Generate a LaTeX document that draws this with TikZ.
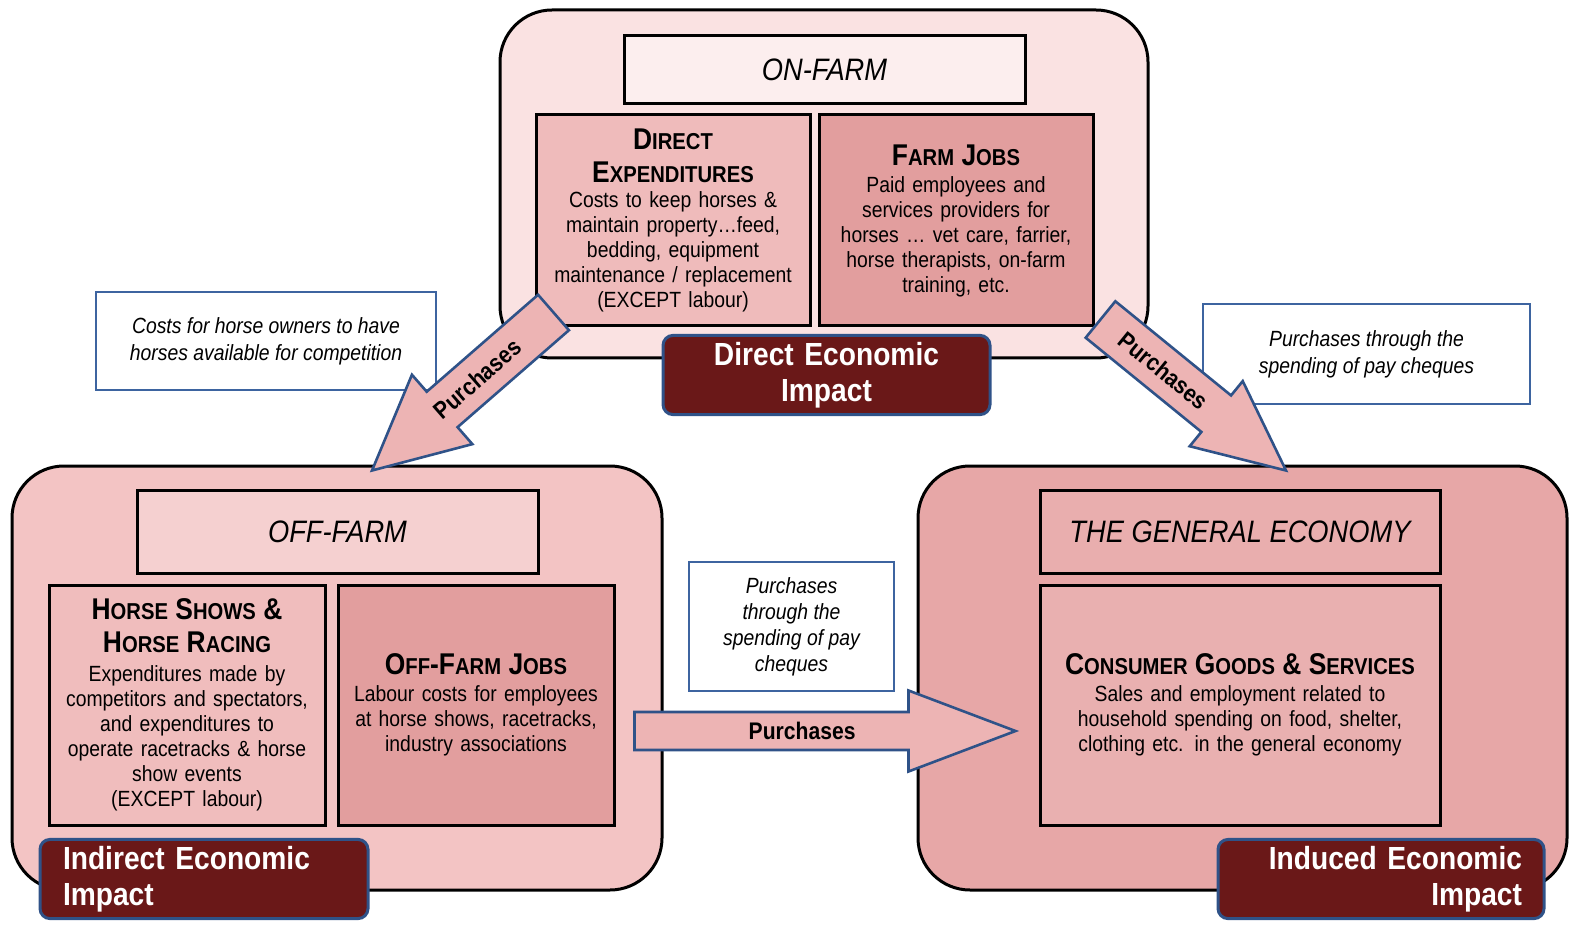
\documentclass[tikz,border=0pt]{standalone}
\usepackage{fontspec}
\setmainfont{Liberation Sans}[FakeStretch=0.88]
\usetikzlibrary{calc}

\definecolor{onfarmbg}{HTML}{FAE2E2}
\definecolor{offfarmbg}{HTML}{F3C4C4}
\definecolor{generalbg}{HTML}{E7A7A7}
\definecolor{lightbox}{HTML}{EFBBBB}
\definecolor{darkbox}{HTML}{E29E9E}
\definecolor{impactred}{HTML}{6A1818}
\definecolor{edgeblue}{HTML}{2F5288}
\definecolor{calloutblue}{HTML}{3D64A0}
\definecolor{arrowpink}{HTML}{EDB4B4}

\newcommand{\hsc}[2]{{\bfseries\fontsize{15}{17}\selectfont #1\fontsize{11.5}{17}\selectfont #2}}
% block arrow: tail, tip, shaft half width, head half width, head length, label pos, label
\newcommand{\purchase}[7]{%
  \coordinate (hb) at ($(#2)!#5!(#1)$);
  \draw[bigarrow] ($(#1)!#3!90:(hb)$) -- ($(hb)!#3!-90:(#1)$) -- ($(hb)!#4!-90:(#1)$) -- (#2)
    -- ($(hb)!#4!90:(#1)$) -- ($(hb)!#3!90:(#1)$) -- ($(#1)!#3!-90:(hb)$) -- cycle;
  \path (#1) -- (#2) node[pos=#6, sloped, font=\bfseries\fontsize{12}{14}\selectfont] {#7};
}

\begin{document}
\begin{tikzpicture}[x=0.5pt, y=-0.5pt,
    frame/.style={draw, line width=1.5pt, rounded corners=26pt},
    panel/.style={draw, line width=1.5pt, minimum width=137pt, minimum height=120pt, text width=133pt, align=center, inner sep=2pt, font=\fontsize{11}{12.5}\selectfont},
    titlebar/.style={draw, line width=1.5pt, minimum width=200.5pt, minimum height=41.5pt, font=\itshape\fontsize{15.5}{17}\selectfont},
    impact/.style={draw=edgeblue, fill=impactred, text=white, line width=1.5pt, rounded corners=5pt, minimum width=163.5pt, minimum height=36pt, text width=141pt, inner xsep=11pt, font=\bfseries\fontsize{16}{18}\selectfont},
    callout/.style={draw=calloutblue, fill=white, line width=1.3pt, align=center, font=\itshape\fontsize{11}{13.5}\selectfont},
    bigarrow/.style={draw=edgeblue, fill=arrowpink, line width=1.3pt, line join=miter}]

\useasboundingbox (0,0) rectangle (1594,930);

\node[frame, fill=onfarmbg, minimum width=324pt, minimum height=174pt] (onfarm) at (824,184) {};
\node[frame, fill=offfarmbg, minimum width=325pt, minimum height=212pt] (offfarm) at (337,678) {};
\node[frame, fill=generalbg, minimum width=324.5pt, minimum height=212pt] (general) at (1242.5,678) {};

\node[titlebar, fill=onfarmbg!60!white, minimum height=34pt] (ontitle) at (824.5,70) {ON-FARM};
\node[panel, fill=lightbox, minimum height=105.5pt] (dexp) at (673,220.5) {\hsc{D}{IRECT}\\[4pt] \hsc{E}{XPENDITURES}\\[0pt]
  Costs to keep horses \&\\ maintain property\dots feed,\\ bedding, equipment\\ maintenance /  replacement\\ (EXCEPT labour)};
\node[panel, fill=darkbox, minimum height=105.5pt] (fjobs) at (956,220.5) {\hsc{F}{ARM} \hsc{J}{OBS}\\[1pt]
  Paid employees and\\ services providers for\\ horses \dots\ vet care, farrier,\\ horse therapists, on-farm\\ training, etc.};

\node[titlebar, fill=offfarmbg!80!white] (offtitle) at (337.5,531.5) {OFF-FARM};
\node[panel, fill=lightbox!80!offfarmbg, minimum width=138pt] (shows) at (187,705) {\hsc{H}{ORSE} \hsc{S}{HOWS} {\bfseries\fontsize{15}{17}\selectfont\&}\\[4pt]
  \hsc{H}{ORSE} \hsc{R}{ACING}\\[2pt] Expenditures made by\\ competitors and spectators,\\ and expenditures to\\ operate racetracks \& horse\\ show events\\ (EXCEPT labour)};
\node[panel, fill=darkbox, minimum width=138pt] (ojobs) at (476,705) {\hsc{O}{FF}\hsc{-F}{ARM} \hsc{J}{OBS}\\[1pt]
  Labour costs for employees\\ at horse shows, racetracks,\\ industry associations};

\node[titlebar, fill=generalbg!92!white, minimum width=200pt] (gentitle) at (1240,531.5) {THE GENERAL ECONOMY};
\node[panel, fill=generalbg!90!white, minimum width=200pt, text width=196pt] (consumer) at (1240,705) {\hsc{C}{ONSUMER} \hsc{G}{OODS} {\bfseries\fontsize{15}{17}\selectfont\&} \hsc{S}{ERVICES}\\[1pt]
  Sales and employment related to\\ household spending on food, shelter,\\ clothing etc. in the general economy};

\node[callout, minimum width=170pt, minimum height=49pt] (costnote) at (266,341) {Costs for horse owners to have\\ horses available for competition};
\node[callout, minimum width=163.5pt, minimum height=50pt] (paynote) at (1366.5,354) {Purchases through the\\ spending of pay cheques};
\node[callout, minimum width=102.5pt, minimum height=64.5pt, font=\itshape\fontsize{11}{13}\selectfont] (midnote) at (791.5,626.5) {Purchases\\ through the\\ spending of pay\\ cheques};

\node[impact, align=center] (direct) at (826.5,375) {Direct Economic\\ Impact};
\node[impact, align=left, minimum width=164pt] (indirect) at (204,879) {Indirect Economic\\ Impact};
\node[impact, align=right, minimum width=163pt] (induced) at (1381,879) {Induced Economic\\ Impact};

\coordinate (ltail) at ($(dexp.south west)+(19,-15)$);
\coordinate (ltip) at ($(offfarm.north)+(35,6)$);
\purchase{ltail}{ltip}{11.75pt}{23pt}{46.5pt}{0.42}{Purchases}
\coordinate (rtail) at ($(fjobs.south east)+(6,-8)$);
\coordinate (rtip) at ($(general.north)+(43.5,6)$);
\purchase{rtail}{rtip}{11.75pt}{21pt}{45pt}{0.34}{Purchases}
\coordinate (htail) at ($(ojobs.east)+(19,26)$);
\coordinate (htip) at ($(consumer.west)+(-23,26)$);
\purchase{htail}{htip}{9.5pt}{20.25pt}{53.5pt}{0.44}{Purchases}
\end{tikzpicture}
\end{document}
